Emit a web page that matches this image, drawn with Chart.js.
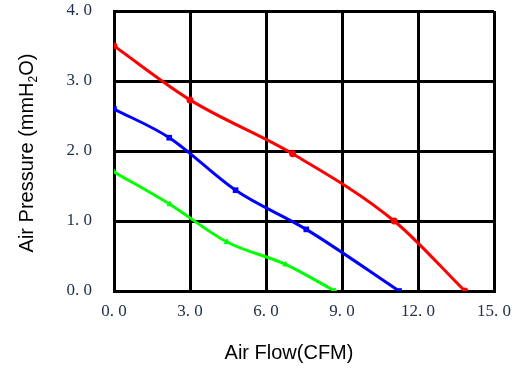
<!DOCTYPE html>
<html>
<head>
<meta charset="utf-8">
<script src="https://cdn.jsdelivr.net/npm/chart.js@4.4.0/dist/chart.umd.min.js"></script>
<style>
  html, body { margin: 0; padding: 0; background: #fff; }
  #wrap { width: 519px; height: 368px; position: relative; }
</style>
</head>
<body>
<div id="wrap"><canvas id="myChart"></canvas></div>
<script>
// curve data (flow in CFM, pressure in mmH2O)
var red_flow = [0, 3.0, 7.05, 11.06, 13.85];
var red_pres = [3.5, 2.73, 1.96, 1.0, 0];
var blue_flow = [0, 2.18, 4.8, 7.59, 11.25];
var blue_pres = [2.6, 2.19, 1.44, 0.88, 0];
var green_flow = [0, 2.2, 4.46, 6.77, 8.72];
var green_pres = [1.7, 1.24, 0.70, 0.38, 0];

var x_ticks = [0, 3, 6, 9, 12, 15];
var y_ticks = [0, 1, 2, 3, 4];

var x_title = "Air Flow(CFM)";
var y_title = ["Air Pressure (mmH", "2", "O)"];

function toPoints(xs, ys) {
    return xs.map(function (x, i) { return { x: x, y: ys[i] }; });
}

function fmt(v) {
    return v.toFixed(1).replace(".", ". ");
}

// white background + axis titles (y title needs a subscript)
var titlesPlugin = {
    id: "titles",
    beforeDraw: function (chart) {
        var c = chart.ctx;
        c.save();
        c.fillStyle = "#fff";
        c.fillRect(0, 0, chart.width, chart.height);
        c.restore();
    },
    afterDraw: function (chart) {
        var c = chart.ctx;
        c.save();
        c.fillStyle = "#000";
        c.textBaseline = "alphabetic";
        // x title
        c.font = "20px 'Liberation Sans', sans-serif";
        c.textAlign = "center";
        c.fillText(x_title, 289, 359);
        // y title, rotated
        var big = "20px 'Liberation Sans', sans-serif";
        var small = "12px 'Liberation Sans', sans-serif";
        c.font = big;
        var w1 = c.measureText(y_title[0]).width;
        var w3 = c.measureText(y_title[2]).width;
        c.font = small;
        var w2 = c.measureText(y_title[1]).width;
        var total = w1 + w2 + w3;
        c.translate(33, 153);
        c.rotate(-Math.PI / 2);
        c.textAlign = "left";
        var x0 = -total / 2;
        c.font = big;
        c.fillText(y_title[0], x0, 0);
        c.font = small;
        c.fillText(y_title[1], x0 + w1, 4);
        c.font = big;
        c.fillText(y_title[2], x0 + w1 + w2, 0);
        c.restore();
    }
};

var ctx = document.getElementById("myChart").getContext("2d");
var chart = new Chart(ctx, {
    type: "scatter",
    data: {
        datasets: [
            {
                label: "red",
                data: toPoints(red_flow, red_pres),
                showLine: true,
                borderColor: "#ff0000",
                backgroundColor: "#ff0000",
                borderWidth: 3,
                pointRadius: 2,
                pointStyle: "circle",
                cubicInterpolationMode: "monotone",
            },
            {
                label: "blue",
                data: toPoints(blue_flow, blue_pres),
                showLine: true,
                borderColor: "#0000ff",
                backgroundColor: "#0000ff",
                borderWidth: 3,
                pointRadius: 4,
                pointBorderWidth: 0,
                pointStyle: "rect",
                cubicInterpolationMode: "monotone",
            },
            {
                label: "green",
                data: toPoints(green_flow, green_pres),
                showLine: true,
                borderColor: "#00ff00",
                backgroundColor: "#00ff00",
                borderWidth: 3,
                pointRadius: 3,
                pointBorderWidth: 1,
                pointStyle: "triangle",
                cubicInterpolationMode: "monotone",
            },
        ],
    },
    options: {
        responsive: true,
        maintainAspectRatio: false,
        animation: false,
        layout: { padding: { left: 0, top: 11, right: 25, bottom: 0 } },
        plugins: {
            legend: { display: false },
            tooltip: { enabled: false },
        },
        scales: {
            x: {
                type: "linear",
                min: 0,
                max: 15,
                afterBuildTicks: function (scale) {
                    scale.ticks = x_ticks.map(function (v) { return { value: v }; });
                },
                afterFit: function (scale) {
                    scale.height = 77;
                    scale.paddingLeft = 0;
                    scale.paddingRight = 0;
                },
                grid: { color: "#000", lineWidth: 3, drawTicks: false },
                border: { color: "#000", width: 3 },
                ticks: {
                    padding: 10,
                    color: "#22304d",
                    font: { family: "'Liberation Serif', serif", size: 17 },
                    maxRotation: 0,
                    callback: function (v) { return fmt(v); },
                },
            },
            y: {
                type: "linear",
                min: 0,
                max: 4,
                afterBuildTicks: function (scale) {
                    scale.ticks = y_ticks.map(function (v) { return { value: v }; });
                },
                afterFit: function (scale) {
                    scale.width = 114;
                    scale.paddingTop = 0;
                    scale.paddingBottom = 0;
                },
                grid: { color: "#000", lineWidth: 3, drawTicks: false },
                border: { color: "#000", width: 3 },
                ticks: {
                    padding: 22,
                    color: "#22304d",
                    font: { family: "'Liberation Serif', serif", size: 17 },
                    callback: function (v) { return fmt(v); },
                },
            },
        },
    },
    plugins: [titlesPlugin],
});
</script>
</body>
</html>
